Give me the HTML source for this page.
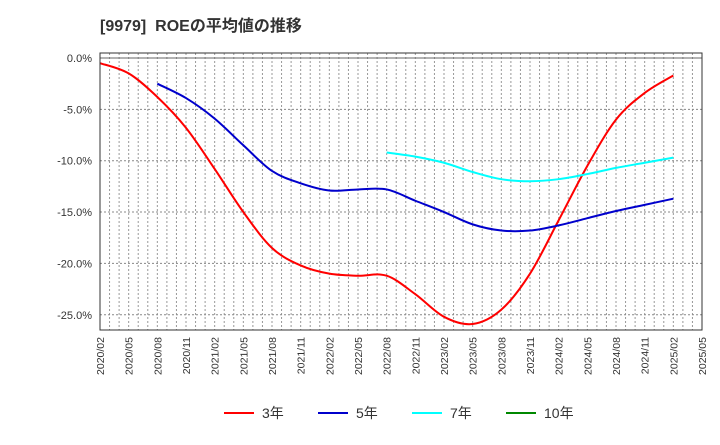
<!DOCTYPE html>
<html><head><meta charset="utf-8"><style>
body{margin:0;background:#fff;font-family:"Liberation Sans","Noto Sans CJK JP",sans-serif}
</style></head><body>
<svg id="c" width="720" height="440" xmlns="http://www.w3.org/2000/svg">
<text x="100" y="31" font-size="16" font-weight="bold" fill="#333" xml:space="preserve" font-family="Liberation Sans, Noto Sans CJK JP, sans-serif">[9979]&#160; ROEの平均値の推移</text>
<g id="grid"></g><g id="series"></g><g id="axes"></g><g id="legend"></g>
</svg>
<script>
const xLabels=["2020/02","2020/05","2020/08","2020/11","2021/02","2021/05","2021/08","2021/11","2022/02","2022/05","2022/08","2022/11","2023/02","2023/05","2023/08","2023/11","2024/02","2024/05","2024/08","2024/11","2025/02","2025/05"];
const yTicks=[0,-5,-10,-15,-20,-25];
const s3=[-0.5,-1.5,-3.8,-6.8,-10.8,-15,-18.5,-20.2,-21,-21.2,-21.2,-23,-25.2,-25.9,-24.5,-21,-15.8,-10.5,-6,-3.4,-1.7];
const s5=[null,null,-2.5,-3.9,-5.9,-8.5,-11,-12.2,-12.9,-12.8,-12.8,-13.9,-15,-16.2,-16.8,-16.8,-16.3,-15.6,-14.9,-14.3,-13.7];
const s7=[null,null,null,null,null,null,null,null,null,null,-9.2,-9.6,-10.2,-11.1,-11.8,-12.0,-11.8,-11.3,-10.7,-10.2,-9.7];
const s10=[];
const L=100,R=702,T=53,B=330;
const X=i=>L+i*(R-L)/21;
const Y=v=>58+(-v)*10.27;
const ns="http://www.w3.org/2000/svg";
function mk(t,a,p){const e=document.createElementNS(ns,t);for(const k in a)e.setAttribute(k,a[k]);p.appendChild(e);return e;}
const grid=document.getElementById('grid'),axes=document.getElementById('axes'),ser=document.getElementById('series'),leg=document.getElementById('legend');
for(let m=1;m<63;m++){const x=L+m*(R-L)/63;
const g=mk('line',{x1:x,x2:x,y1:T,y2:B,stroke:'#999','stroke-dasharray':'2,2','stroke-width':1},grid);

}
yTicks.forEach(v=>{const y=Y(v);
const g=mk('line',{x1:L,x2:R,y1:y,y2:y,stroke:v===0?'#666':'#888','stroke-dasharray':v===0?'':'2,2','stroke-width':1},grid);


const t=mk('text',{x:L-8,y:y+4,'text-anchor':'end','font-size':11,fill:'#333'},axes);t.textContent=v.toFixed(1)+'%';

});
const fr=mk('rect',{x:L,y:T,width:R-L,height:B-T,fill:'none',stroke:'#333','stroke-width':1},axes);


xLabels.forEach((l,i)=>{const x=X(i)+4;const t=mk('text',{x:x,y:337,'text-anchor':'end','font-size':10.5,fill:'#333',transform:`rotate(-90 ${x} 337)`},axes);t.textContent=l;

});
function path(arr){const pts=[];arr.forEach((v,i)=>{if(v!==null&&v!==undefined)pts.push([X(i),Y(v)]);});
if(pts.length<2)return '';let d=`M${pts[0][0]},${pts[0][1]}`;
for(let i=0;i<pts.length-1;i++){const p0=pts[i-1]||pts[i],p1=pts[i],p2=pts[i+1],p3=pts[i+2]||p2;
d+=` C${p1[0]+(p2[0]-p0[0])/6},${p1[1]+(p2[1]-p0[1])/6} ${p2[0]-(p3[0]-p1[0])/6},${p2[1]-(p3[1]-p1[1])/6} ${p2[0]},${p2[1]}`;}return d;}
[[s3,'#f00','series-3y'],[s5,'#00c','series-5y'],[s7,'#0ff','series-7y'],[s10,'#080','series-10y']].forEach(([a,c,n])=>{const d=path(a);if(!d)return;
const p=mk('path',{d:d,fill:'none',stroke:c,'stroke-width':2},ser);

});
[['3年','#f00',224],['5年','#00c',318],['7年','#0ff',412],['10年','#080',506]].forEach(([l,c,x])=>{
const g=mk('g',{},leg);


mk('line',{x1:x,x2:x+30,y1:413,y2:413,stroke:c,'stroke-width':2},g);
const t=mk('text',{x:x+38,y:418,'font-size':14,fill:'#333'},g);t.textContent=l;});
</script>
</body></html>
